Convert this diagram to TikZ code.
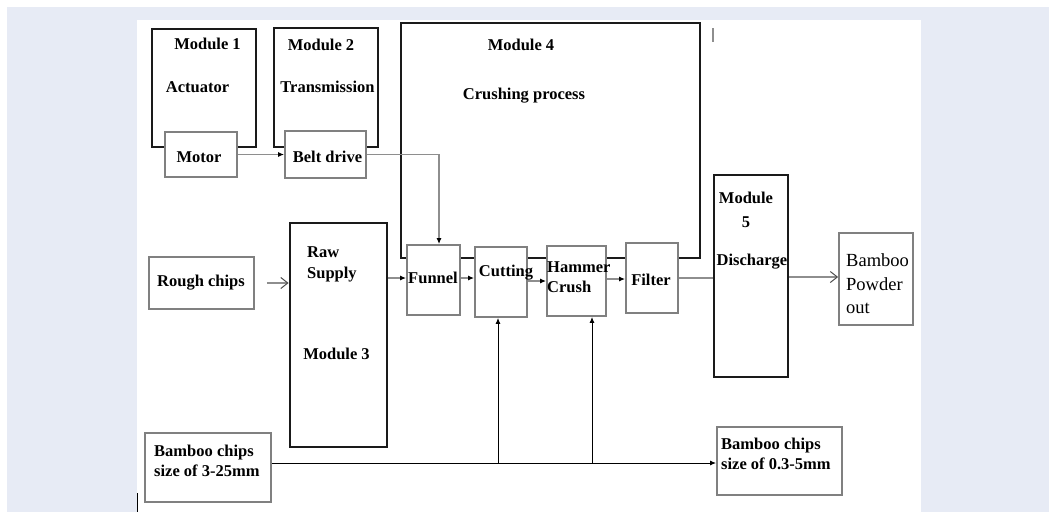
\documentclass[tikz,border=0pt]{standalone}
\usepackage{fontspec}
\setmainfont{Liberation Serif}
\usetikzlibrary{
  arrows.meta,
  positioning,
  calc
}
\definecolor{bdPage}{HTML}{E7EBF5}
\definecolor{bdFrame}{HTML}{1A1A1A}
\definecolor{bdPart}{HTML}{808080}
\definecolor{bdLine}{HTML}{8E8E8E}
\tikzset{
  modframe/.style={draw=bdFrame, line width=2.8pt, fill=white, inner sep=0pt},
  partbox/.style={draw=bdPart, line width=1.8pt, fill=white, inner sep=0pt},
  lbl/.style={font=\fontsize{16.5}{20}\selectfont\bfseries, inner sep=0pt, align=left},
  plainlbl/.style={font=\fontsize{18.5}{23.5}\selectfont, inner sep=0pt, align=left},
  feed/.style={draw=bdLine, line width=1.5pt, -{Latex[length=6pt, width=5pt, color=black]}},
  openfeed/.style={draw=bdLine, line width=1.5pt, -{Straight Barb[length=7pt, width=11pt, line width=1pt, color=black!70]}},
  plainfeed/.style={draw=bdLine, line width=1.5pt},
  sizeflow/.style={draw=black, line width=1pt, -{Latex[length=6pt, width=5pt]}}
}

\begin{document}
\begin{tikzpicture}[x=1pt, y=-1pt]
  \useasboundingbox (0,0) rectangle (1049,512);
  % page
  \fill[bdPage] (7,7) rectangle (1049,512);
  \fill[white] (137,20) rectangle (921,512);
  \draw[bdLine, line width=1.5pt] (713,28) -- (713,42);
  \draw[black, line width=1pt] (137,493) -- (137,512);

  % module frames
  \node[modframe, minimum width=104pt, minimum height=118pt] (mod1) at (204,88) {};
  \node[modframe, minimum width=104pt, minimum height=119pt] (mod2) at (326,87.5) {};
  \node[modframe, minimum width=299pt, minimum height=235pt] (mod4) at (550.5,140.5) {};
  \node[modframe, minimum width=97pt, minimum height=224pt] (mod3) at (338.5,335) {};
  \node[modframe, minimum width=74pt, minimum height=202pt] (mod5) at (751,276) {};

  % parts
  \node[partbox, minimum width=72pt, minimum height=45pt] (motor) at (201,154.5) {};
  \node[partbox, minimum width=81pt, minimum height=47pt] (belt) at (325.5,154.5) {};
  \node[partbox, minimum width=53pt, minimum height=70pt] (funnel) at (433.5,280) {};
  \node[partbox, minimum width=52pt, minimum height=70pt] (cut) at (501,282) {};
  \node[partbox, minimum width=59pt, minimum height=70pt] (ham) at (576.5,281) {};
  \node[partbox, minimum width=52pt, minimum height=70pt] (filter) at (652,278) {};
  \node[partbox, minimum width=105pt, minimum height=52pt] (rough) at (201.5,283) {};
  \node[partbox, minimum width=74pt, minimum height=92pt] (powder) at (876,279) {};
  \node[partbox, minimum width=126pt, minimum height=69pt] (chipsin) at (208,467.5) {};
  \node[partbox, minimum width=125pt, minimum height=68pt] (chipsout) at (779.5,461) {};

  % connectors
  \draw[feed] (motor.east) -- (belt.west);
  \draw[feed] (belt.east) -| ([xshift=5.5pt]funnel.north);
  \draw[openfeed, shorten <=12pt] (rough.east) -- (rough.east -| mod3.west);
  \draw[feed] ([yshift=2pt]mod3.east |- funnel.west) -- ([yshift=2pt]funnel.west);
  \draw[feed] ([yshift=2pt]funnel.east) -- ([yshift=2pt]funnel.east -| cut.west);
  \draw[feed] ([yshift=1pt]cut.east) -- ([yshift=1pt]cut.east -| ham.west);
  \draw[feed] ([yshift=2pt]ham.east) -- ([yshift=2pt]ham.east -| filter.west);
  \draw[plainfeed] (filter.east) -- (filter.east -| mod5.west);
  \draw[openfeed] ([yshift=2pt]powder.west -| mod5.east) -- ([yshift=2pt]powder.west);
  \coordinate (cutjoin) at (498,463);
  \coordinate (hamjoin) at (592,463);
  \draw[sizeflow] (chipsin.east |- cutjoin) -- (chipsout.west |- cutjoin);
  \draw[sizeflow] (cutjoin) -- (cutjoin |- cut.south);
  \draw[sizeflow] (hamjoin) -- (hamjoin |- ham.south);

  % labels
  \node[lbl] (mod1t) at (207.5,44) {Module 1};
  \node[lbl] (act) at (197.5,87) {Actuator};
  \node[lbl] (motort) at (199,157) {Motor};
  \node[lbl] (mod2t) at (321,44.5) {Module 2};
  \node[lbl] (trans) at (327.5,87) {Transmission};
  \node[lbl] (beltt) at (327.5,157) {Belt drive};
  \node[lbl] (mod4t) at (521,45) {Module 4};
  \node[lbl] (crush) at (524,96) {Crushing process};
  \node[lbl] (funnelt) at (433,278) {Funnel};
  \node[lbl] (cutt) at (506,273) {Cutting};
  \node[lbl, anchor=west] (hamt) at (547,277) {Hammer\\Crush};
  \node[lbl] (filtert) at (651,280) {Filter};
  \node[lbl, anchor=west, font=\fontsize{16.5}{21}\selectfont\bfseries] (raw) at (307,264) {Raw\\Supply};
  \node[lbl] (mod3t) at (336.5,354) {Module 3};
  \node[lbl] (roughtxt) at (201,283) {Rough chips};
  \node[lbl, align=center, font=\fontsize{16.5}{24}\selectfont\bfseries] (mod5t) at (746,210) {Module\\5};
  \node[lbl] (disch) at (752,262) {Discharge};
  \node[plainlbl, anchor=west] (powdert) at (846,284) {Bamboo\\Powder\\out};
  \node[lbl, anchor=west] (chipsint) at (154,461) {Bamboo chips\\size of 3-25mm};
  \node[lbl, anchor=west] (chipsoutt) at (721,454) {Bamboo chips\\size of 0.3-5mm};
\end{tikzpicture}
\end{document}
